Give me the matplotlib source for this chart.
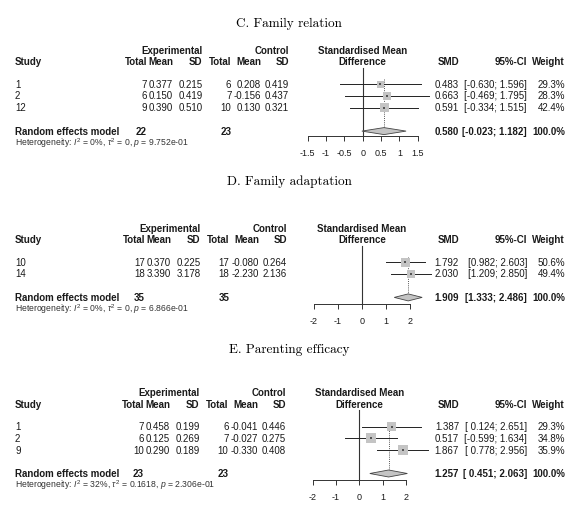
import numpy as np
import matplotlib
matplotlib.use("Agg")
import matplotlib.pyplot as plt
from matplotlib.patches import Polygon

plt.rcParams['font.family'] = ['Liberation Sans', 'DejaVu Sans']
plt.rcParams['mathtext.fontset'] = 'custom'
plt.rcParams['mathtext.rm'] = 'Liberation Sans'
plt.rcParams['mathtext.it'] = 'Liberation Sans:italic'

# ---- C. Family relation
c_study = ['1', '2', '12']
c_exp_n = [7, 6, 9]
c_exp_mean = [0.377, 0.150, 0.390]
c_exp_sd = [0.215, 0.419, 0.510]
c_ctl_n = [6, 7, 10]
c_ctl_mean = [0.208, -0.156, 0.130]
c_ctl_sd = [0.419, 0.437, 0.321]
c_smd = [0.483, 0.663, 0.591]
c_lo = [-0.630, -0.469, -0.334]
c_hi = [1.596, 1.795, 1.515]
c_w = [29.3, 28.3, 42.4]
c_re = [0.580, -0.023, 1.182]
c_tot = [22, 23]
c_het = ['0%', '0', '9.752e-01']
c_ticks = [-1.5, -1, -0.5, 0, 0.5, 1, 1.5]
c_ticklab = ['-1.5', '-1', '-0.5', '0', '0.5', '1', '1.5']

# ---- D. Family adaptation
d_study = ['10', '14']
d_exp_n = [17, 18]
d_exp_mean = [0.370, 3.390]
d_exp_sd = [0.225, 3.178]
d_ctl_n = [17, 18]
d_ctl_mean = [-0.080, -2.230]
d_ctl_sd = [0.264, 2.136]
d_smd = [1.792, 2.030]
d_lo = [0.982, 1.209]
d_hi = [2.603, 2.850]
d_w = [50.6, 49.4]
d_re = [1.909, 1.333, 2.486]
d_tot = [35, 35]
d_het = ['0%', '0', '6.866e-01']
d_ticks = [-2, -1, 0, 1, 2]
d_ticklab = ['-2', '-1', '0', '1', '2']

# ---- E. Parenting efficacy
e_study = ['1', '2', '9']
e_exp_n = [7, 6, 10]
e_exp_mean = [0.458, 0.125, 0.290]
e_exp_sd = [0.199, 0.269, 0.189]
e_ctl_n = [6, 7, 10]
e_ctl_mean = [-0.041, -0.027, -0.330]
e_ctl_sd = [0.446, 0.275, 0.408]
e_smd = [1.387, 0.517, 1.867]
e_lo = [0.124, -0.599, 0.778]
e_hi = [2.651, 1.634, 2.956]
e_w = [29.3, 34.8, 35.9]
e_re = [1.257, 0.451, 2.063]
e_tot = [23, 23]
e_het = ['32%', '0.1618', '2.306e-01']
e_ticks = [-2, -1, 0, 1, 2]
e_ticklab = ['-2', '-1', '0', '1', '2']

titles = ['C. Family relation', 'D. Family adaptation', 'E. Parenting efficacy']

W, H = 570, 515
fig = plt.figure(figsize=(W / 100, H / 100), dpi=100)
fig.patch.set_facecolor('white')
TXT = '#1a1a1a'


def T(x, y, s, ha='left', bold=False, size=7.0, **kw):
    # y is the visual middle of the capitals, in pixels from the top
    cap = size * 100 / 72 * 0.716
    fig.text(x / W, 1 - (y + cap / 2) / H, s, ha=ha, va='baseline',
             fontsize=size, fontweight='bold' if bold else 'normal',
             color=kw.pop('color', TXT), **kw)


def panel(title, title_y, row0, dx, zero_x, ppu, axis_y, ticks, ticklab,
          study, en, em, es, cn, cm, cs, smd, lo, hi, w, re, tot, het, sq_max):
    dy = 11.7
    rows = [row0 + i * dy for i in range(len(study))]
    re_y = rows[-1] + 2 * dy
    h1, h2 = row0 - 34, row0 - 22.5

    T(289, title_y, title, ha='center', size=9.5, family='cmr10', color='black')

    # column header
    col = {'en': 147 + dx, 'em': 173 + dx, 'es': 202.5 + dx,
           'cn': 231.5 + dx, 'cm': 261 + dx, 'cs': 289 + dx,
           'smd': 459, 'ci': 527, 'w': 565}
    T(col['es'], h1, 'Experimental', ha='right', bold=True)
    T(col['cs'], h1, 'Control', ha='right', bold=True)
    T(zero_x, h1, 'Standardised Mean', ha='center', bold=True)
    T(15, h2, 'Study', bold=True)
    for k, s in [('en', 'Total'), ('em', 'Mean'), ('es', 'SD'), ('cn', 'Total'),
                 ('cm', 'Mean'), ('cs', 'SD'), ('smd', 'SMD'), ('ci', '95%-CI'),
                 ('w', 'Weight')]:
        T(col[k], h2, s, ha='right', bold=True)
    T(zero_x, h2, 'Difference', ha='center', bold=True)

    wid = 6 if min(lo + [re[1]]) < 0 and max(lo + [re[1]]) >= 0 else 0
    for i, y in enumerate(rows):
        T(15, y, study[i])
        T(col['en'], y, str(en[i]), ha='right')
        T(col['em'], y, f'{em[i]:.3f}', ha='right')
        T(col['es'], y, f'{es[i]:.3f}', ha='right')
        T(col['cn'], y, str(cn[i]), ha='right')
        T(col['cm'], y, f'{cm[i]:.3f}', ha='right')
        T(col['cs'], y, f'{cs[i]:.3f}', ha='right')
        T(col['smd'], y, f'{smd[i]:.3f}', ha='right')
        T(col['ci'], y, f'[{lo[i]:{wid}.3f}; {hi[i]:.3f}]', ha='right')
        T(col['w'], y, f'{w[i]:.1f}%', ha='right')

    T(15, re_y, 'Random effects model', bold=True)
    T(col['en'], re_y, str(tot[0]), ha='right', bold=True)
    T(col['cn'], re_y, str(tot[1]), ha='right', bold=True)
    T(col['smd'], re_y, f'{re[0]:.3f}', ha='right', bold=True)
    T(col['ci'], re_y, f'[{re[1]:{wid}.3f}; {re[2]:.3f}]', ha='right', bold=True)
    T(col['w'], re_y, '100.0%', ha='right', bold=True)
    T(15, re_y + dy, 'Heterogeneity: $I^2$ = ' + het[0] + r', $\tau^2$ = ' + het[1]
      + ', $p$ = ' + het[2], size=6.25, color='#333333')

    # forest part
    x0, x1 = 290, 445
    y0, y1 = h1 - 8, axis_y + 25
    ax = fig.add_axes([x0 / W, 1 - y1 / H, (x1 - x0) / W, (y1 - y0) / H])
    ax.set_xlim((x0 - zero_x) / ppu, (x1 - zero_x) / ppu)
    ax.set_ylim(y1, y0)
    ax.patch.set_alpha(0)
    for s in ['top', 'left', 'right']:
        ax.spines[s].set_visible(False)
    ax.spines['bottom'].set_position(('data', axis_y))
    ax.spines['bottom'].set_bounds(ticks[0], ticks[-1])
    ax.spines['bottom'].set_linewidth(0.7)
    ax.spines['bottom'].set_color('#333333')
    ax.set_xticks(ticks, ticklab)
    ax.set_yticks([])
    ax.tick_params(axis='x', direction='out', length=3.6, width=0.7, pad=5.5,
                   labelsize=6.5, colors='#333333', labelcolor=TXT)

    ax.plot([0, 0], [h2 + 6, axis_y], color='#333333', lw=0.8)
    ax.plot([re[0], re[0]], [rows[0] - 5, re_y - 3.5], color='#555555', lw=0.7,
            ls=(0, (1, 1.2)))
    for i, y in enumerate(rows):
        ax.plot([lo[i], hi[i]], [y, y], color='#222222', lw=0.7)
    side = np.sqrt(np.array(w) / max(w)) * sq_max * 0.72
    ax.scatter(smd, rows, marker='s', s=side ** 2, color='#c4c4c4', zorder=3,
               linewidths=0)
    ax.scatter(smd, rows, marker='s', s=1.0, color='#555555', zorder=4, linewidths=0)
    ax.add_patch(Polygon([[re[1], re_y], [re[0], re_y - 3.5], [re[2], re_y],
                          [re[0], re_y + 3.5]], closed=True, facecolor='#c4c4c4',
                         edgecolor='#444444', lw=0.6, zorder=3))


panel(titles[0], 22, 84.3, 0, 362.7, 36.7, 136, c_ticks, c_ticklab,
      c_study, c_exp_n, c_exp_mean, c_exp_sd, c_ctl_n, c_ctl_mean, c_ctl_sd,
      c_smd, c_lo, c_hi, c_w, c_re, c_tot, c_het, 9)
panel(titles[1], 180, 262.3, -2, 362, 24.2, 304, d_ticks, d_ticklab,
      d_study, d_exp_n, d_exp_mean, d_exp_sd, d_ctl_n, d_ctl_mean, d_ctl_sd,
      d_smd, d_lo, d_hi, d_w, d_re, d_tot, d_het, 8.5)
panel(titles[2], 348, 426.7, -3, 359.3, 23.3, 480, e_ticks, e_ticklab,
      e_study, e_exp_n, e_exp_mean, e_exp_sd, e_ctl_n, e_ctl_mean, e_ctl_sd,
      e_smd, e_lo, e_hi, e_w, e_re, e_tot, e_het, 10)

fig.savefig('out.png', dpi=100, facecolor='white')
